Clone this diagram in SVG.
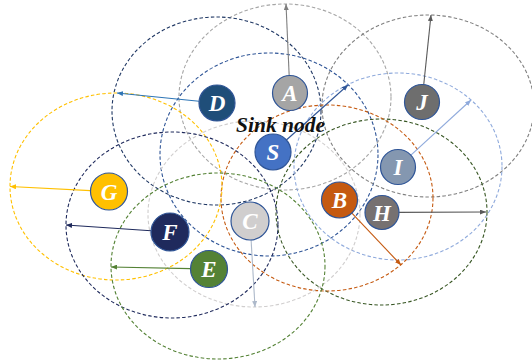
<svg xmlns="http://www.w3.org/2000/svg" width="532" height="362" viewBox="0 0 532 362">
<style>
.rng{fill:none;stroke-width:1.1;stroke-dasharray:3.5 2.2}
.lk{fill:none;stroke-width:1.1}
.nd{stroke:#2f5597;stroke-width:1.2}
.lb{font-family:"Liberation Serif","DejaVu Serif",serif;font-style:italic;font-weight:bold;font-size:23px;fill:#ffffff;text-anchor:middle}
.sink{font-family:"Liberation Serif","DejaVu Serif",serif;font-style:italic;font-weight:bold;font-size:21.5px;fill:#111111}
</style>
<defs>
<marker id="mA" markerUnits="userSpaceOnUse" markerWidth="6" markerHeight="5" refX="6" refY="2.5" orient="auto"><path d="M0,0L6,2.5L0,5z" fill="#7f7f7f"/></marker>
<marker id="mJ" markerUnits="userSpaceOnUse" markerWidth="6" markerHeight="5" refX="6" refY="2.5" orient="auto"><path d="M0,0L6,2.5L0,5z" fill="#595959"/></marker>
<marker id="mS" markerUnits="userSpaceOnUse" markerWidth="6" markerHeight="5" refX="6" refY="2.5" orient="auto"><path d="M0,0L6,2.5L0,5z" fill="#2f5597"/></marker>
<marker id="mI" markerUnits="userSpaceOnUse" markerWidth="6" markerHeight="5" refX="6" refY="2.5" orient="auto"><path d="M0,0L6,2.5L0,5z" fill="#8faadc"/></marker>
<marker id="mH" markerUnits="userSpaceOnUse" markerWidth="6" markerHeight="5" refX="6" refY="2.5" orient="auto"><path d="M0,0L6,2.5L0,5z" fill="#595959"/></marker>
<marker id="mB" markerUnits="userSpaceOnUse" markerWidth="6" markerHeight="5" refX="6" refY="2.5" orient="auto"><path d="M0,0L6,2.5L0,5z" fill="#c55a11"/></marker>
<marker id="mC" markerUnits="userSpaceOnUse" markerWidth="6" markerHeight="5" refX="6" refY="2.5" orient="auto"><path d="M0,0L6,2.5L0,5z" fill="#adb9ca"/></marker>
<marker id="mE" markerUnits="userSpaceOnUse" markerWidth="6" markerHeight="5" refX="6" refY="2.5" orient="auto"><path d="M0,0L6,2.5L0,5z" fill="#548235"/></marker>
<marker id="mF" markerUnits="userSpaceOnUse" markerWidth="6" markerHeight="5" refX="6" refY="2.5" orient="auto"><path d="M0,0L6,2.5L0,5z" fill="#1f2a5c"/></marker>
<marker id="mG" markerUnits="userSpaceOnUse" markerWidth="6" markerHeight="5" refX="6" refY="2.5" orient="auto"><path d="M0,0L6,2.5L0,5z" fill="#ffc000"/></marker>
<marker id="mD" markerUnits="userSpaceOnUse" markerWidth="6" markerHeight="5" refX="6" refY="2.5" orient="auto"><path d="M0,0L6,2.5L0,5z" fill="#2e75b6"/></marker>
</defs>
<rect width="532" height="362" fill="#ffffff"/>
<g id="ranges">
<ellipse class="rng" cx="285" cy="97" rx="106" ry="93" stroke="#a6a6a6"/>
<ellipse class="rng" cx="216.5" cy="111" rx="104.5" ry="94" stroke="#203864"/>
<ellipse class="rng" cx="269" cy="154.5" rx="109" ry="101.5" stroke="#2f5597"/>
<ellipse class="rng" cx="428" cy="106" rx="106" ry="91" stroke="#7f7f7f"/>
<ellipse class="rng" cx="398" cy="166.5" rx="104" ry="93.5" stroke="#8faadc"/>
<ellipse class="rng" cx="381.5" cy="212" rx="105.5" ry="93" stroke="#375623"/>
<ellipse class="rng" cx="327" cy="198" rx="106" ry="93" stroke="#c55a11"/>
<ellipse class="rng" cx="254" cy="214" rx="106" ry="93" stroke="#d0cece"/>
<ellipse class="rng" cx="116" cy="186.5" rx="106" ry="93.5" stroke="#ffc000"/>
<ellipse class="rng" cx="172" cy="225" rx="106" ry="93" stroke="#1f2a5c"/>
<ellipse class="rng" cx="218" cy="266" rx="107" ry="93" stroke="#548235"/>
</g>
<g id="connectors">
<line class="lk" x1="289.2" y1="76" x2="286" y2="4" stroke="#7f7f7f" marker-end="url(#mA)"/>
<line class="lk" x1="423.7" y1="85" x2="431" y2="15" stroke="#595959" marker-end="url(#mJ)"/>
<line class="lk" x1="286.4" y1="140" x2="348" y2="85" stroke="#2f5597" marker-end="url(#mS)"/>
<line class="lk" x1="410.9" y1="155.2" x2="471" y2="100" stroke="#8faadc" marker-end="url(#mI)"/>
<line class="lk" x1="399" y1="212.4" x2="486" y2="212" stroke="#595959" marker-end="url(#mH)"/>
<line class="lk" x1="351.9" y1="213.1" x2="401" y2="265" stroke="#c55a11" marker-end="url(#mB)"/>
<line class="lk" x1="251.1" y1="240" x2="255" y2="307" stroke="#adb9ca" marker-end="url(#mC)"/>
<line class="lk" x1="190.5" y1="268.6" x2="111" y2="267" stroke="#548235" marker-end="url(#mE)"/>
<line class="lk" x1="151" y1="230.7" x2="66" y2="225" stroke="#1f2a5c" marker-end="url(#mF)"/>
<line class="lk" x1="90.5" y1="190.6" x2="10" y2="186.5" stroke="#ffc000" marker-end="url(#mG)"/>
<line class="lk" x1="199.1" y1="101.2" x2="117" y2="93" stroke="#2e75b6" marker-end="url(#mD)"/>
</g>
<g id="node-A"><circle class="nd" cx="290" cy="93" r="17.5" fill="#a5a5a5"/><text class="lb" x="290" y="101">A</text></g>
<g id="node-D"><circle class="nd" cx="217" cy="103" r="18" fill="#1f4e79"/><text class="lb" x="217" y="111">D</text></g>
<g id="node-S"><circle class="nd" cx="273" cy="152" r="18" fill="#4472c4"/><text class="lb" x="273" y="160">S</text></g>
<g id="node-J"><circle class="nd" cx="422" cy="102" r="17.5" fill="#6e6e6e"/><text class="lb" x="422" y="110">J</text></g>
<g id="node-I"><circle class="nd" cx="398" cy="167" r="17.5" fill="#8497b0"/><text class="lb" x="398" y="175">I</text></g>
<g id="node-B"><circle class="nd" cx="339.5" cy="200" r="18" fill="#c55a11"/><text class="lb" x="339.5" y="208">B</text></g>
<g id="node-H"><circle class="nd" cx="382" cy="212.5" r="17" fill="#767171"/><text class="lb" x="382" y="220.5">H</text></g>
<g id="node-C"><circle class="nd" cx="250" cy="221" r="19" fill="#d0cece"/><text class="lb" x="250" y="229">C</text></g>
<g id="node-F"><circle class="nd" cx="170" cy="232" r="19" fill="#1f2a5c"/><text class="lb" x="170" y="240">F</text></g>
<g id="node-E"><circle class="nd" cx="209" cy="269" r="18.5" fill="#548235"/><text class="lb" x="209" y="277">E</text></g>
<g id="node-G"><circle class="nd" cx="109" cy="191.5" r="18.5" fill="#ffc000"/><text class="lb" x="109" y="199.5">G</text></g>
<g id="label-sink"><text class="sink" x="236" y="132">Sink node</text></g>
</svg>
